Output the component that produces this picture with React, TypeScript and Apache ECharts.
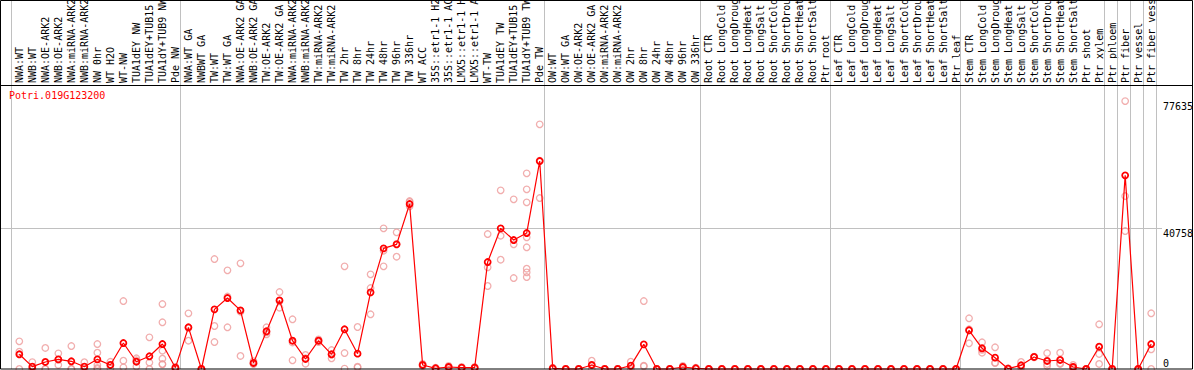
import { useEffect, useRef } from "react";
import * as echarts from "echarts";

const geneId = "Potri.019G123200";

const categories = [
  "NWA:WT", "NWB:WT", "NWA:OE-ARK2", "NWB:OE-ARK2", "NWA:miRNA-ARK2", "NWB:miRNA-ARK2", "NW 0hr", "WT H2O", "WT-NW", "TUA1dEY NW", "TUA1dEY+TUB15 NW", "TUA1dY+TUB9 NW", "Pde NW",
  "NWA:WT GA", "NWBWT GA", "TW:WT", "TW:WT GA", "NWA:OE-ARK2 GA", "NWB:OE-ARK2 GA", "TW:OE-ARK2", "TW:OE-ARK2 GA", "NWA:miRNA-ARK2", "NWB:miRNA-ARK2", "TW:miRNA-ARK2", "TW:miRNA-ARK2", "TW 2hr", "TW 8hr", "TW 24hr", "TW 48hr", "TW 96hr", "TW 336hr", "WT ACC", "35S::etr1-1 H2O", "35S::etr1-1 ACC", "LMX5::etr1-1 H2O", "LMX5::etr1-1 ACC", "WT-TW", "TUA1dEY TW", "TUA1dEY+TUB15 TW", "TUA1dY+TUB9 TW", "Pde TW",
  "OW:WT", "OW:WT GA", "OW:OE-ARK2", "OW:OE-ARK2 GA", "OW:miRNA-ARK2", "OW:miRNA-ARK2", "OW 2hr", "OW 8hr", "OW 24hr", "OW 48hr", "OW 96hr", "OW 336hr",
  "Root CTR", "Root LongCold", "Root LongDrought", "Root LongHeat", "Root LongSalt", "Root ShortCold", "Root ShortDrought", "Root ShortHeat", "Root ShortSalt", "Ptr root",
  "Leaf CTR", "Leaf LongCold", "Leaf LongDrought", "Leaf LongHeat", "Leaf LongSalt", "Leaf ShortCold", "Leaf ShortDrought", "Leaf ShortHeat", "Leaf ShortSalt", "Ptr leaf",
  "Stem CTR", "Stem LongCold", "Stem LongDrought", "Stem LongHeat", "Stem LongSalt", "Stem ShortCold", "Stem ShortDrought", "Stem ShortHeat", "Stem ShortSalt", "Ptr shoot", "Ptr xylem",
  "Ptr phloem", "Ptr fiber", "Ptr vessel", "Ptr fiber vessel",
];

// index of the first category of each group (last entry = end)
const groupStarts = [0, 13, 41, 53, 63, 73, 84, 85, 86, 87, 88];

const meanValues = [
  4260, 670, 2030, 2800, 2230, 670, 2800, 1160, 7530, 2110, 3680, 7240, 380,
  12080, 0, 17290, 20570, 17000, 1740, 10920, 19900, 8200, 2900, 8200, 4260, 11500, 4440, 22220, 34960, 36120, 47800, 1160, 200, 580, 380, 380, 31000, 40760, 37370, 39400, 60260,
  200, 0, 0, 1160, 0, 0, 960, 7150, 0, 0, 580, 200,
  0, 0, 0, 0, 0, 0, 0, 0, 0, 0,
  0, 0, 0, 0, 0, 0, 0, 0, 0, 0,
  11210, 6000, 3280, 90, 1070, 3480, 2320, 2610, 580, 0, 6460,
  0, 56110, 0, 7240,
];

const replicateValues = [
  [8020, 5010, 0], [2000, 0, 0], [6100, 0, 0], [4540, 2700, 1160], [6660, 0, 0], [1960, 0, 0], [7240, 4720, 1160, 300, 0], [2100, 1160, 200], [19700, 2400, 500], [3100, 2530, 700], [9180, 1860, 0], [18830, 13530, 5300, 3000, 1350, 1440], [600, 400, 140],
  [16130, 11900, 8200], [0, 0, 0], [31870, 12460, 7820], [28590, 21000, 12080], [30620, 16600, 3770], [2290, 1500, 1450], [12080, 10630, 10050], [22300, 19640, 17760], [14400, 7680, 2520], [4060, 3100, 1540], [8580, 8200, 7800], [5500, 4180, 3100], [29750, 4630, 120], [12170, 670, 480], [27430, 23470, 15850], [40760, 34270, 29750], [39600, 36230, 32530], [48670, 48380, 47130], [1500, 1160, 800], [400, 200, 0], [900, 580, 260], [600, 380, 160], [600, 380, 160], [39110, 29460, 24050], [51770, 38620, 31660], [49160, 36120, 26360], [56690, 52060, 48290, 38150, 35260, 29060, 28010, 26650], [70890, 60350, 49540],
  [400, 200, 0], [0, 0, 0], [0, 0, 0], [2400, 1080, 0], [0, 0, 0], [0, 0, 0], [2120, 760, 0], [19700, 960, 790], [0, 0, 0], [0, 0, 0], [900, 580, 260], [400, 200, 0],
  [0, 0, 0], [0, 0, 0], [0, 0, 0], [0, 0, 0], [0, 0, 0], [0, 0, 0], [0, 0, 0], [0, 0, 0], [0, 0, 0], [0, 0, 0],
  [0, 0, 0], [0, 0, 0], [0, 0, 0], [0, 0, 0], [0, 0, 0], [0, 0, 0], [0, 0, 0], [0, 0, 0], [0, 0, 0], [0, 0, 0],
  [14690, 11500, 7450], [7740, 5540, 4720], [6290, 1830, 1720], [200, 70, 0], [2030, 800, 380], [3600, 3440, 3400], [4630, 1460, 870], [4720, 1660, 1450], [1160, 580, 0], [0, 0, 0], [12950, 4350, 1450],
  [0, 0, 0], [77635, 50120, 39980], [0, 0, 0], [16140, 5710, 0],
];

const yTickValues = [0, 40758, 77635];
const yTickLabels = ["0", "40758", "77635"];
const gridLineValues = [40758];
const yMax = 82293;

export default function App() {
  const ref = useRef<HTMLDivElement>(null);
  useEffect(() => {
    document.body.style.margin = "0";
    const chart = echarts.init(ref.current!, null, { renderer: "svg" });
    const font = "'DejaVu Sans Mono', 'Liberation Mono', monospace";
    const scatterData = replicateValues.flatMap((reps, i) => reps.map((v) => [i, v]));
    chart.setOption({
      animation: false,
      grid: { left: 12.8, right: 36.3, top: 85, bottom: 1, containLabel: false, outerBoundsMode: "none" },
      xAxis: {
        type: "category",
        data: categories,
        position: "top",
        boundaryGap: true,
        axisLine: { show: false },
        axisTick: { show: false },
        splitLine: { show: false },
        axisLabel: { interval: 0, rotate: 90, margin: 2, fontFamily: font, fontSize: 10, color: "#000", hideOverlap: false },
      },
      yAxis: { type: "value", min: 0, max: yMax, show: false, splitLine: { show: false } },
      series: [
        {
          type: "scatter",
          data: scatterData,
          symbol: "circle",
          symbolSize: 6.5,
          clip: false,
          itemStyle: { color: "rgba(0,0,0,0)", borderColor: "#ee9a9a", borderWidth: 1.3 },
          z: 2,
        },
        {
          type: "line",
          data: meanValues,
          symbol: "circle",
          symbolSize: 6,
          showSymbol: true,
          showAllSymbol: true,
          clip: false,
          lineStyle: { color: "#ff0000", width: 1.2 },
          itemStyle: { color: "rgba(0,0,0,0)", borderColor: "#ff0000", borderWidth: 1.8 },
          z: 3,
        },
      ],
    });

    const x0 = chart.convertToPixel({ xAxisIndex: 0 }, 0) as number;
    const x1 = chart.convertToPixel({ xAxisIndex: 0 }, categories.length - 1) as number;
    const step = (x1 - x0) / (categories.length - 1);
    const yOf = (v: number) => chart.convertToPixel({ yAxisIndex: 0 }, v) as number;

    const graphics: any[] = [];
    groupStarts.forEach((k) => {
      const x = Math.round(x0 + k * step - 8.6) + 0.5;
      graphics.push({
        type: "line",
        silent: true,
        z: 1,
        shape: { x1: x, y1: 0, x2: x, y2: 369 },
        style: { stroke: "#c0c0c0", lineWidth: 1 },
      });
    });
    gridLineValues.forEach((v) => {
      const y = Math.round(yOf(v)) + 0.5;
      graphics.push({
        type: "line",
        silent: true,
        z: 1,
        shape: { x1: 0, y1: y, x2: 1162, y2: y },
        style: { stroke: "#c0c0c0", lineWidth: 1 },
      });
    });
    yTickValues.forEach((v, i) => {
      const y = yOf(v);
      graphics.push({
        type: "text",
        silent: true,
        z: 10,
        x: 1163,
        y: v === 0 ? y - 1 : y,
        style: {
          text: yTickLabels[i],
          fill: "#000",
          font: `10px ${font}`,
          textAlign: "left",
          textVerticalAlign: v === 0 ? "bottom" : "top",
        },
      });
    });
    graphics.push({
      type: "text",
      silent: true,
      z: 10,
      x: 9,
      y: 90,
      style: { text: geneId, fill: "#ff0000", font: `10px ${font}`, textAlign: "left", textVerticalAlign: "top" },
    });
    graphics.push({
      type: "line",
      silent: true,
      z: 20,
      shape: { x1: 0, y1: 85.5, x2: 1193, y2: 85.5 },
      style: { stroke: "#000", lineWidth: 1 },
    });
    graphics.push({
      type: "rect",
      silent: true,
      z: 20,
      shape: { x: 0.5, y: 0.5, width: 1192, height: 368.5 },
      style: { fill: "none", stroke: "#000", lineWidth: 1 },
    });
    chart.setOption({ graphic: graphics });

    return () => chart.dispose();
  }, []);
  return <div ref={ref} style={{ width: 1194, height: 370 }} />;
}
